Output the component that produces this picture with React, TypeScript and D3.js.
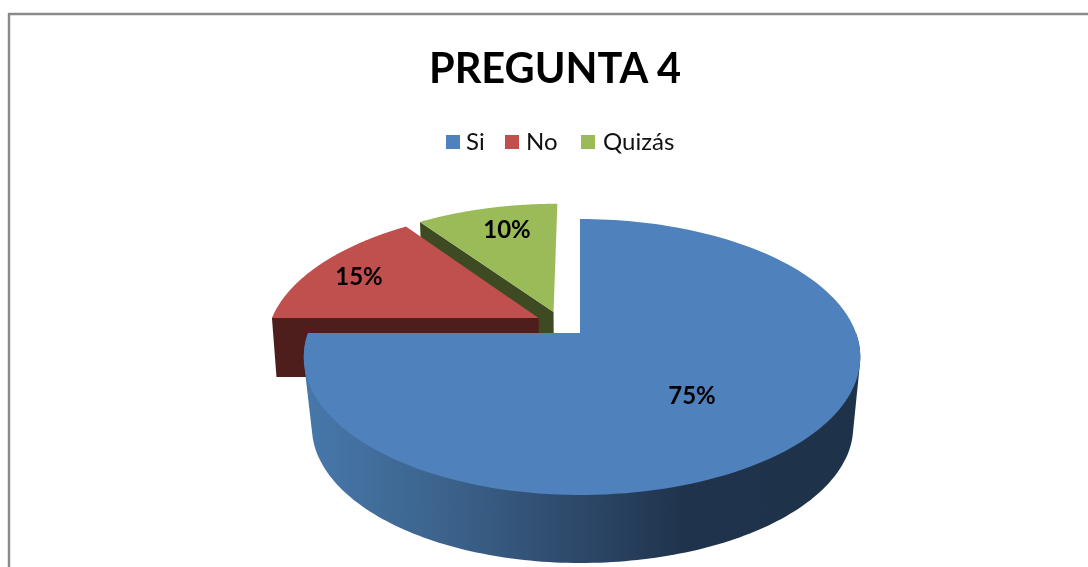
import React from "react";
import * as d3 from "d3";

const categories = ["Si", "No", "Quizás"];
const values = [75, 15, 10];
const labels = ["75%", "15%", "10%"];
const topColors = ["#4f81bd", "#c0504d", "#9bbb59"];
const wallColors = ["url(#blueWall)", "#4d1e1c", "#3e4a22"];
// plane offset of each exploded slice (unit-radius pie coordinates)
const offsetU = [0, -0.155, -0.1];
const offsetV = [0, 0.114, 0.161];
const labelX = [692, 359, 507];
const labelY = [396, 277, 230];
const legendSwatchX = [446, 505, 581];
const legendTextX = [466, 526, 603];

const K = 0.174;
const scaleTopX = d3.scaleLinear().domain([-1, 0, 1]).range([308, 580, 856]);
const scaleTopY = d3.scaleLinear().domain([0, 1]).range([333, 199.2]);
// lower ring of the large slice, and of the two pulled-out slices
const scaleBotX = d3.scaleLinear().domain([-1, 0, 1]).range([316, 580, 849]);
const scaleBotY = d3.scaleLinear().domain([0, 1]).range([403.3, 271.4]);
const scaleBotXSmall = d3.scaleLinear().domain([0, 1]).range([580, 848]);
const scaleBotYSmall = d3.scaleLinear().domain([0, 1]).range([392.7, 252.1]);

type P = [number, number];
type Level = "top" | "bot" | "botSmall";
const project = (u: number, v: number, level: Level): P => {
  const w = 1 + K * v;
  if (level === "top") return [scaleTopX(u / w), scaleTopY(v / w)];
  if (level === "bot") return [scaleBotX(u / w), scaleBotY(v / w)];
  return [scaleBotXSmall(u / w), scaleBotYSmall(v / w)];
};

const pieGen = d3.pie<number>().sort(null)(values);
const line = d3.line<P>();

const rimPoint = (i: number, a: number, level: Level): P =>
  project(offsetU[i] + Math.sin(a), offsetV[i] + Math.cos(a), level);

const sample = (a0: number, a1: number) => d3.range(0, 161).map((k) => a0 + ((a1 - a0) * k) / 160);

export default function App() {
  const slices = pieGen.map((s, i) => {
    const angles = sample(s.startAngle, s.endAngle);
    const apexTop = project(offsetU[i], offsetV[i], "top");
    const apexBot = project(offsetU[i], offsetV[i], "botSmall");
    const top = line([apexTop, ...angles.map((a) => rimPoint(i, a, "top"))])! + "Z";
    let wall = "";
    if (i === 0) {
      // outer wall of the front half: swept outline of the upper and lower rims
      const front = sample(Math.PI / 2, (3 * Math.PI) / 2);
      const hull = d3.polygonHull([
        ...front.map((a) => rimPoint(i, a, "top")),
        ...front.map((a) => rimPoint(i, a, "bot")),
      ] as P[])!;
      wall = line(hull as P[])! + "Z";
    } else {
      const a = s.startAngle;
      wall = line([rimPoint(i, a, "top"), apexTop, apexBot, rimPoint(i, a, "botSmall")])! + "Z";
    }
    return { top, wall };
  });
  const order = [2, 1, 0];
  return (
    <svg
      width={1088}
      height={567}
      viewBox="0 0 1088 567"
      style={{ position: "fixed", left: 0, top: 0, display: "block" }}
    >
      <defs>
        <linearGradient id="blueWall" gradientUnits="userSpaceOnUse" x1={305} x2={862} y1={0} y2={0}>
          <stop offset="0" stopColor="#4778ab" />
          <stop offset="0.28" stopColor="#3a6088" />
          <stop offset="0.52" stopColor="#2b4565" />
          <stop offset="0.68" stopColor="#1f344c" />
          <stop offset="1" stopColor="#1e3249" />
        </linearGradient>
      </defs>
      <rect x={0} y={0} width={1088} height={567} fill="#fff" />
      <g style={{ filter: "blur(0.45px)" }}>
        <path d="M9,575V14H1095" fill="none" stroke="#8a8a8a" strokeWidth={2.4} />
        <text
          x={555}
          y={83}
          textAnchor="middle"
          fontFamily="Lato, sans-serif"
          fontWeight={700}
          fontSize={41.5}
          fill="#000"
        >
          PREGUNTA 4
        </text>
        {categories.map((c, i) => (
          <g key={c}>
            <rect x={legendSwatchX[i]} y={135} width={14} height={14} fill={topColors[i]} />
            <text x={legendTextX[i]} y={150} fontFamily="Lato, sans-serif" fontSize={24} fill="#111">
              {c}
            </text>
          </g>
        ))}
        {order.map((i) => (
          <g key={i}>
            <path d={slices[i].wall} fill={wallColors[i]} />
            <path d={slices[i].top} fill={topColors[i]} />
          </g>
        ))}
        {labels.map((l, i) => (
          <text
            key={l}
            x={labelX[i]}
            y={labelY[i] + 8}
            textAnchor="middle"
            fontFamily="Lato, sans-serif"
            fontWeight={700}
            fontSize={24}
            fill="#000"
          >
            {l}
          </text>
        ))}
      </g>
    </svg>
  );
}
